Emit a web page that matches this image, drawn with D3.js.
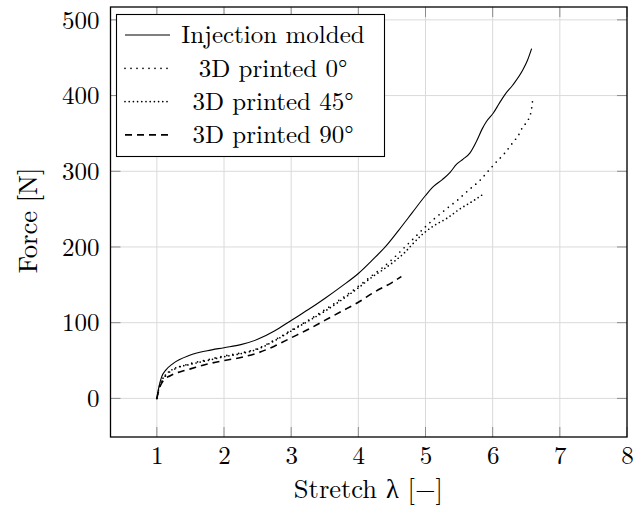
<!DOCTYPE html>
<html>
<head>
<meta charset="utf-8">
<script src="https://cdn.jsdelivr.net/npm/d3@7"></script>
<style>
  body { margin: 0; background: #fff; }
  svg { display: block; }
  svg text { font-family: "Latin Modern Roman", "Liberation Serif", serif; fill: #000; }
</style>
</head>
<body>
<svg id="chart" width="644" height="511"></svg>
<script>
// stretch [-] / force [N]
const injectionX = [1, 1.03, 1.07, 1.14, 1.24, 1.49, 1.75, 2, 2.25, 2.5, 2.75, 3, 3.25, 3.5, 3.75, 4, 4.2, 4.4, 4.6, 4.8, 5, 5.12, 5.25, 5.37, 5.46, 5.56, 5.66, 5.75, 5.85, 5.91, 6.01, 6.1, 6.18, 6.3, 6.45, 6.52, 6.58]
const injectionY = [0, 15, 28, 38, 46, 57, 63, 67, 71, 78, 89, 103, 117, 132, 148, 165, 182, 200, 222, 245, 268, 280, 289, 299, 309, 316, 324, 338, 357, 366, 377, 390, 401, 414, 434, 447, 462]

const printed0X = [1, 1.03, 1.07, 1.14, 1.25, 1.5, 1.75, 2, 2.25, 2.5, 2.75, 3, 3.25, 3.5, 3.75, 4, 4.2, 4.35, 4.52, 4.67, 4.82, 4.99, 5.14, 5.32, 5.49, 5.64, 5.81, 5.96, 6.03, 6.18, 6.3, 6.38, 6.45, 6.53, 6.58, 6.6]
const printed0Y = [0, 12, 22, 31, 38, 46, 51, 56, 60, 66, 77, 90, 103, 117, 132, 148, 162, 172, 185, 198, 211, 226, 238, 251, 263, 275, 288, 303, 310, 324, 338, 347, 359, 368, 383, 398]

const printed45X = [1, 1.03, 1.07, 1.14, 1.25, 1.5, 1.75, 2, 2.25, 2.5, 2.75, 3, 3.25, 3.5, 3.75, 4, 4.2, 4.35, 4.52, 4.67, 4.82, 4.97, 5.14, 5.32, 5.49, 5.71, 5.88]
const printed45Y = [0, 13, 23, 32, 39, 45, 50, 55, 59, 65, 76, 89, 102, 115, 130, 146, 160, 169, 180, 191, 205, 218, 229, 238, 249, 261, 271]

const printed90X = [1, 1.04, 1.1, 1.2, 1.34, 1.5, 1.74, 2, 2.25, 2.5, 2.75, 3, 3.25, 3.5, 3.75, 4, 4.25, 4.5, 4.64]
const printed90Y = [0, 14, 24, 30, 35, 39, 45, 50, 54, 60, 69, 80, 91, 103, 115, 127, 141, 153, 161]

const seriesNames = ['Injection molded', '3D printed 0°', '3D printed 45°', '3D printed 90°']
const xTicks = [1, 2, 3, 4, 5, 6, 7, 8]
const yTicks = [0, 100, 200, 300, 400, 500]

const svg = d3.select('#chart')
const plotLeft = 110.5, plotRight = 627, plotTop = 7, plotBottom = 437
const tickFont = 25, labelFont = 26.5, legendFont = 25

const x = d3.scaleLinear().domain([0.31, 8]).range([plotLeft, plotRight])
const y = d3.scaleLinear().domain([-51, 517]).range([plotBottom, plotTop])

// grid
svg.append('g').selectAll('line').data(xTicks).join('line')
    .attr('x1', d => x(d)).attr('x2', d => x(d))
    .attr('y1', plotTop).attr('y2', plotBottom)
    .attr('stroke', '#dadada').attr('stroke-width', 1)
svg.append('g').selectAll('line').data(yTicks).join('line')
    .attr('y1', d => y(d)).attr('y2', d => y(d))
    .attr('x1', plotLeft).attr('x2', plotRight)
    .attr('stroke', '#dadada').attr('stroke-width', 1)

// tick marks inside, on all four sides
const tickLen = 10
const ticks = svg.append('g').attr('stroke', '#8c8c8c').attr('stroke-width', 1)
ticks.selectAll('.tb').data(xTicks).join('line').attr('class', 'tb')
    .attr('x1', d => x(d)).attr('x2', d => x(d)).attr('y1', plotBottom).attr('y2', plotBottom - tickLen)
ticks.selectAll('.tt').data(xTicks).join('line').attr('class', 'tt')
    .attr('x1', d => x(d)).attr('x2', d => x(d)).attr('y1', plotTop).attr('y2', plotTop + tickLen)
ticks.selectAll('.tl').data(yTicks).join('line').attr('class', 'tl')
    .attr('y1', d => y(d)).attr('y2', d => y(d)).attr('x1', plotLeft).attr('x2', plotLeft + tickLen)
ticks.selectAll('.tr').data(yTicks).join('line').attr('class', 'tr')
    .attr('y1', d => y(d)).attr('y2', d => y(d)).attr('x1', plotRight).attr('x2', plotRight - tickLen)

// tick labels through d3 axes
const xAxis = svg.append('g').attr('transform', `translate(0,${plotBottom})`)
    .call(d3.axisBottom(x).tickValues(xTicks).tickSize(0).tickFormat(d3.format('d')))
const yAxis = svg.append('g').attr('transform', `translate(${plotLeft},0)`)
    .call(d3.axisLeft(y).tickValues(yTicks).tickSize(0).tickPadding(11).tickFormat(d3.format('d')))
xAxis.select('.domain').remove()
yAxis.select('.domain').remove()
svg.selectAll('.tick text')
    .style('font-family', '"Latin Modern Roman", serif')
    .attr('font-size', tickFont).attr('fill', '#000')
xAxis.selectAll('.tick text').attr('y', 27).attr('dy', null)
yAxis.selectAll('.tick text').attr('dy', '0.33em')

// curves
const styles = [
    { dash: null, width: 1.1, cap: 'butt' },
    { dash: '0 6', width: 1.7, cap: 'round' },
    { dash: '0 4.2', width: 1.7, cap: 'round' },
    { dash: '7 5', width: 1.6, cap: 'butt' }
]
const series = [
    d3.zip(injectionX, injectionY),
    d3.zip(printed0X, printed0Y),
    d3.zip(printed45X, printed45Y),
    d3.zip(printed90X, printed90Y)
]
const line = d3.line().x(d => x(d[0])).y(d => y(d[1])).curve(d3.curveMonotoneX)

svg.append('g').selectAll('path').data(series).join('path')
    .attr('d', line)
    .attr('fill', 'none')
    .attr('stroke', '#000')
    .attr('stroke-width', (d, i) => styles[i].width)
    .attr('stroke-linecap', (d, i) => styles[i].cap)
    .attr('stroke-dasharray', (d, i) => styles[i].dash)

// frame
svg.append('rect').attr('x', plotLeft).attr('y', plotTop)
    .attr('width', plotRight - plotLeft).attr('height', plotBottom - plotTop)
    .attr('fill', 'none').attr('stroke', '#000').attr('stroke-width', 1.3)

// legend
const legend = svg.append('g')
legend.append('rect').attr('x', 116.5).attr('y', 14.5).attr('width', 268).attr('height', 142)
    .attr('fill', '#fff').attr('stroke', '#000').attr('stroke-width', 1.1)
const rows = legend.selectAll('g').data(seriesNames).join('g')
    .attr('transform', (d, i) => `translate(0,${35 + i * 33.3})`)
rows.append('line').attr('x1', 125).attr('x2', 170).attr('y1', 0).attr('y2', 0)
    .attr('stroke', '#000')
    .attr('stroke-width', (d, i) => styles[i].width)
    .attr('stroke-linecap', (d, i) => styles[i].cap)
    .attr('stroke-dasharray', (d, i) => styles[i].dash)
rows.append('text').attr('x', 273).attr('y', 8.3)
    .attr('text-anchor', 'middle').attr('font-size', legendFont)
    .text(d => d)

// axis titles
svg.append('text').attr('x', x(4.15)).attr('y', 498)
    .attr('text-anchor', 'middle').attr('font-size', labelFont)
    .text('Stretch λ [−]')
svg.append('text').attr('transform', `translate(37,${y(235)}) rotate(-90)`)
    .attr('text-anchor', 'middle').attr('font-size', labelFont)
    .text('Force [N]')
</script>
</body>
</html>
